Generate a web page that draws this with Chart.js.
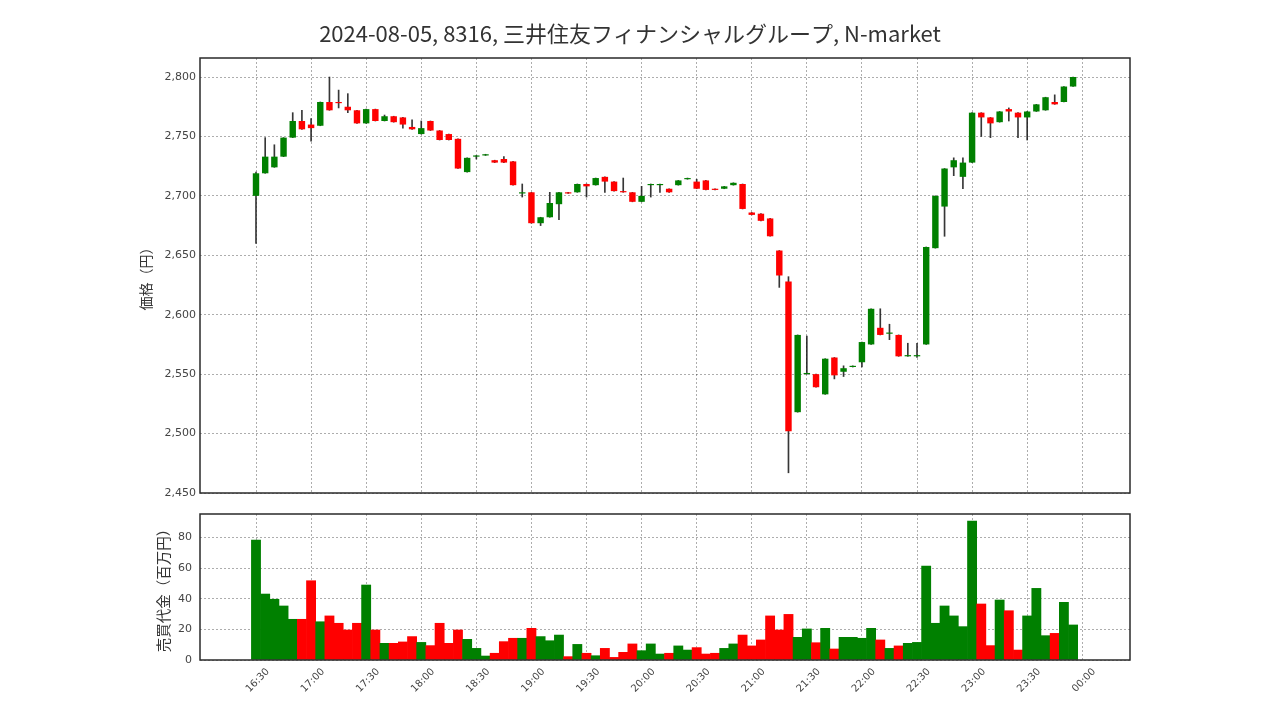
<!DOCTYPE html>
<html><head><meta charset="utf-8">
<script src="https://cdn.jsdelivr.net/npm/chart.js@4.4.1/dist/chart.umd.min.js"></script>
<style>
html,body{margin:0;padding:0;background:#fff;}
#wrap{position:relative;width:1280px;height:720px;overflow:hidden;}
#wrap canvas{position:absolute;left:0;top:0;}
</style></head><body>
<div id="wrap"><canvas id="price" width="1280" height="720"></canvas><canvas id="vol" width="1280" height="720"></canvas></div>
<script>
const TITLE = '2024-08-05, 8316, 三井住友フィナンシャルグループ, N-market';
const PRICE_LABEL = '価格（円）';
const VOLUME_LABEL = '売買代金（百万円）';

const times = ['16:30','16:35','16:40','16:45','16:50','16:55','17:00','17:05','17:10','17:15','17:20','17:25',
 '17:30','17:35','17:40','17:45','17:50','17:55','18:00','18:05','18:10','18:15','18:20','18:25',
 '18:30','18:35','18:40','18:45','18:50','18:55','19:00','19:05','19:10','19:15','19:20','19:25',
 '19:30','19:35','19:40','19:45','19:50','19:55','20:00','20:05','20:10','20:15','20:20','20:25',
 '20:30','20:35','20:40','20:45','20:50','20:55','21:00','21:05','21:10','21:15','21:20','21:25',
 '21:30','21:35','21:40','21:45','21:50','21:55','22:00','22:05','22:10','22:15','22:20','22:25',
 '22:30','22:35','22:40','22:45','22:50','22:55','23:00','23:05','23:10','23:15','23:20','23:25',
 '23:30','23:35','23:40','23:45','23:50','23:55'];

const open = [2700,2719,2724,2733,2749,2763,2760,2759,2779,2779,2775,2772,
 2761,2773,2763,2767,2766,2758,2752,2763,2755,2752,2748,2720,
 2733,2734,2730,2731,2729,2702,2703,2677,2682,2693,2703,2703,
 2710,2709,2716,2712,2704,2703,2695,2709,2709,2706,2709,2714,
 2712,2713,2706,2706,2709,2710,2686,2685,2681,2654,2628,2518,
 2550,2550,2533,2564,2552,2556,2560,2575,2589,2584,2583,2565,
 2565,2575,2656,2691,2724,2716,2728,2770,2766,2762,2773,2770,
 2766,2771,2772,2779,2779,2792];
const high = [2720,2749,2743,2749,2770,2772,2765,2779,2800,2789,2786,2772,
 2773,2773,2768,2767,2766,2764,2763,2763,2755,2752,2748,2732,
 2734,2735,2730,2733,2729,2710,2703,2682,2703,2703,2703,2710,
 2710,2715,2716,2712,2715,2703,2708,2710,2710,2706,2713,2715,
 2714,2713,2706,2708,2711,2710,2686,2685,2681,2654,2632,2583,
 2582,2550,2563,2564,2557,2557,2577,2605,2605,2592,2583,2576,
 2576,2657,2700,2723,2732,2732,2770,2770,2766,2771,2774,2770,
 2771,2777,2783,2785,2792,2800];
const low = [2660,2719,2724,2733,2749,2756,2746,2759,2772,2774,2770,2761,
 2761,2763,2763,2762,2757,2756,2752,2755,2747,2747,2723,2720,
 2731,2734,2728,2728,2709,2699,2677,2675,2682,2680,2702,2703,
 2699,2709,2703,2704,2703,2695,2695,2699,2703,2703,2709,2714,
 2706,2705,2705,2706,2709,2689,2684,2679,2666,2623,2467,2518,
 2550,2539,2533,2546,2548,2556,2556,2575,2583,2579,2565,2565,
 2564,2575,2656,2666,2717,2706,2728,2750,2749,2762,2763,2749,
 2747,2771,2772,2777,2779,2792];
const close = [2719,2733,2733,2749,2763,2756,2757,2779,2772,2778,2772,2761,
 2773,2763,2767,2762,2760,2756,2757,2755,2747,2747,2723,2732,
 2734,2735,2728,2728,2709,2703,2677,2682,2694,2703,2702,2710,
 2708,2715,2712,2704,2703,2695,2700,2710,2710,2703,2713,2715,
 2706,2705,2705,2708,2711,2689,2684,2679,2666,2633,2502,2583,
 2551,2539,2563,2549,2555,2557,2577,2605,2583,2585,2565,2566,
 2566,2657,2700,2723,2730,2728,2770,2766,2761,2771,2771,2766,
 2771,2777,2783,2777,2792,2800];
const volume = [78.4,43.1,39.7,35.3,26.6,26.6,51.8,25,28.8,24,19.6,24,
 49,19.6,10.9,10.9,11.8,15.3,11.5,9.4,24,10.9,19.6,13.5,
 7.6,2.6,4.4,12,14.2,14.2,20.7,15.3,12.6,16.3,2.2,10.2,
 4.4,2.8,7.6,1.7,5,10.5,6.1,10.5,3.9,4.4,9.2,6.5,
 8.1,3.9,4.4,7.6,10.5,16.3,9.2,13.1,28.8,19.6,29.8,14.8,
 20.3,11.3,20.7,7.2,14.8,14.8,14.2,20.7,13.1,7.6,9.2,10.9,
 11.5,61.4,24,35.3,28.8,21.8,90.8,36.6,9.4,39.2,32.2,6.5,
 28.8,46.8,15.9,17.4,37.7,22.9];

const xTickLabels = ['16:30','17:00','17:30','18:00','18:30','19:00','19:30','20:00',
 '20:30','21:00','21:30','22:00','22:30','23:00','23:30','00:00'];
const priceTicks = [2450,2500,2550,2600,2650,2700,2750,2800];
const volumeTicks = [0,20,40,60,80];

const GREEN = '#008000', RED = '#ff0000';
const GRID = 'rgba(0,0,0,0.32)';

function timeToX(t){
  const p = t.split(':').map(Number);
  let m = p[0]*60 + p[1];
  if (m < 16*60) m += 24*60;
  return m - (16*60 + 30);
}
const xs = times.map(timeToX);
const colors = close.map((c,i) => c >= open[i] ? GREEN : RED);
const labelByX = {};
xTickLabels.forEach(t => { labelByX[timeToX(t)] = t; });

const X_MIN = -30.5, X_MAX = 476;

const framePlugin = {
  id: 'frame',
  afterDatasetsDraw(chart){
    const {ctx, chartArea: a} = chart;
    ctx.save();
    ctx.strokeStyle = '#2a2a2a';
    ctx.lineWidth = 1.5;
    ctx.strokeRect(a.left, a.top, a.right - a.left, a.bottom - a.top);
    ctx.restore();
  }
};

function xScale(showTicks){
  return {
    type: 'linear', min: X_MIN, max: X_MAX, offset: false,
    afterBuildTicks: s => { s.ticks = xTickLabels.map(t => ({value: timeToX(t)})); },
    afterFit: s => { s.height = showTicks ? 60 : 0; },
    grid: {offset: false, color: GRID, lineWidth: 1, drawTicks: false},
    border: {display: false, dash: [2, 2]},
    ticks: showTicks ? {
      display: true, minRotation: 45, maxRotation: 45, autoSkip: false,
      padding: 6, labelOffset: 12,
      font: {family: 'DejaVu Sans', size: 10}, color: '#444',
      callback: v => labelByX[v] !== undefined ? labelByX[v] : ''
    } : {display: false}
  };
}

new Chart(document.getElementById('price'), {
  type: 'bar',
  data: {datasets: [
    {label: 'wick', data: xs.map((x,i) => ({x: x, y: [low[i], high[i]]})),
     backgroundColor: 'rgba(20,20,20,0.85)', barThickness: 1, grouped: false, order: 2, borderWidth: 0},
    {label: 'body', data: xs.map((x,i) => ({x: x, y: [open[i], close[i]]})),
     backgroundColor: colors, barPercentage: 0.7, categoryPercentage: 1, grouped: false, order: 1,
     borderWidth: 0, borderSkipped: false}
  ]},
  options: {
    responsive: false, animation: false, events: [],
    layout: {padding: {left: 130, right: 150, top: 0, bottom: 227}},
    plugins: {
      legend: {display: false}, tooltip: {enabled: false},
      title: {display: true, text: TITLE, color: '#333',
        font: {family: 'Noto Sans CJK JP', size: 22, weight: 'normal'},
        padding: {top: 20.8, bottom: 10.8}}
    },
    scales: {
      x: xScale(false),
      y: {
        type: 'linear', min: 2450, max: 2816,
        afterBuildTicks: s => { s.ticks = priceTicks.map(v => ({value: v})); },
        afterFit: s => { s.width = 70; },
        grid: {color: GRID, lineWidth: 1, drawTicks: false},
        border: {display: false, dash: [2, 2]},
        ticks: {font: {family: 'DejaVu Sans', size: 11}, color: '#444', padding: 4,
          callback: v => Number(v).toLocaleString('en-US')},
        title: {display: true, text: PRICE_LABEL, color: '#333',
          font: {family: 'Noto Sans CJK JP', size: 14}, padding: {top: 7.6, bottom: 0}}
      }
    }
  },
  plugins: [framePlugin]
});

new Chart(document.getElementById('vol'), {
  type: 'bar',
  data: {datasets: [
    {label: 'volume', data: xs.map((x,i) => ({x: x, y: volume[i]})),
     backgroundColor: colors, barPercentage: 1, categoryPercentage: 1, borderWidth: 0}
  ]},
  options: {
    responsive: false, animation: false, events: [],
    layout: {padding: {left: 150, right: 150, top: 514, bottom: 0}},
    plugins: {legend: {display: false}, tooltip: {enabled: false}, title: {display: false}},
    scales: {
      x: xScale(true),
      y: {
        type: 'linear', min: 0, max: 95.4,
        afterBuildTicks: s => { s.ticks = volumeTicks.map(v => ({value: v})); },
        afterFit: s => { s.width = 50; },
        grid: {color: GRID, lineWidth: 1, drawTicks: false},
        border: {display: false, dash: [2, 2]},
        ticks: {font: {family: 'DejaVu Sans', size: 11}, color: '#444', padding: 8},
        title: {display: true, text: VOLUME_LABEL, color: '#333',
          font: {family: 'Noto Sans CJK JP', size: 14.5}, padding: {top: 4.3, bottom: 0}}
      }
    }
  },
  plugins: [framePlugin]
});
</script>
</body></html>
